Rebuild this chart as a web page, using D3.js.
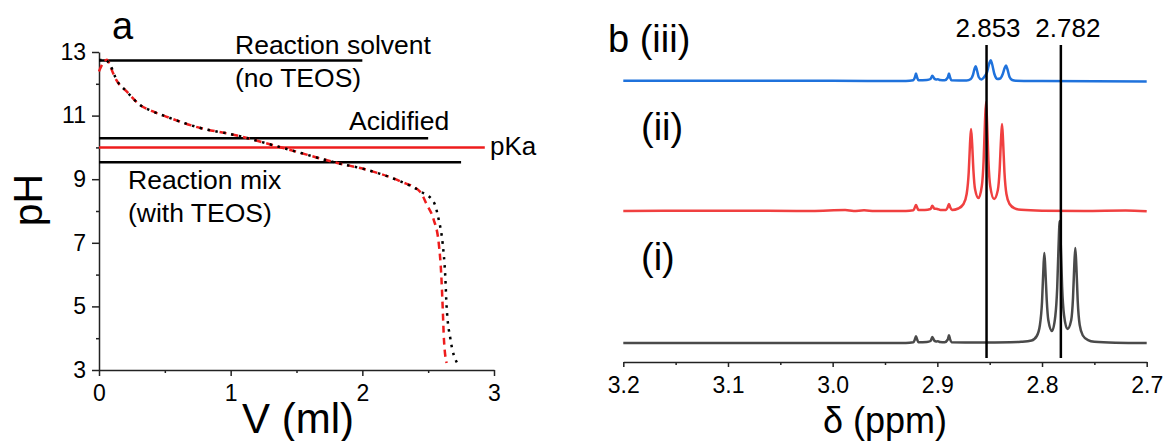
<!DOCTYPE html>
<html>
<head>
<meta charset="utf-8">
<script src="https://cdn.jsdelivr.net/npm/d3@7"></script>
<style>
  body { margin: 0; background: #fff; }
  svg { font-family: "Liberation Sans", Arial, sans-serif; }
</style>
</head>
<body>
<script>

// ---- panel a : titration data (V in ml, pH) ----
var blackV  = [0.00, 0.05, 0.09, 0.13, 0.21, 0.31, 0.41, 0.51, 0.77, 1.02, 1.40, 1.81, 2.03, 2.29, 2.44, 2.54, 2.58, 2.61, 2.63, 2.64, 2.67, 2.72];
var blackPH = [12.75, 12.74, 12.55, 12.15, 11.76, 11.34, 11.13, 10.97, 10.61, 10.40, 9.98, 9.51, 9.30, 8.93, 8.62, 8.30, 7.73, 6.98, 5.94, 5.00, 3.95, 3.22];

var redV  = [0.00, 0.03, 0.06, 0.09, 0.13, 0.21, 0.31, 0.41, 0.51, 0.77, 1.02, 1.40, 1.81, 2.03, 2.29, 2.44, 2.49, 2.54, 2.58, 2.60, 2.61, 2.62, 2.64];
var redPH = [12.39, 12.65, 12.76, 12.50, 12.13, 11.76, 11.34, 11.13, 10.97, 10.61, 10.40, 9.98, 9.51, 9.30, 8.93, 8.60, 8.20, 7.75, 7.00, 5.95, 5.00, 3.95, 3.22];

// reference levels
var refNames = ["Reaction solvent", "Acidified", "pKa", "Reaction mix"];
var refPH    = [12.73, 10.29, 10.0, 9.53];
var refEndV  = [2.0, 2.5, 2.93, 2.75];

// ---- panel b : 1H NMR spectra, [ppm, intensity] ----
var specI = [
  [3.200, 0], [3.000, 0], [2.930, 0], [2.923, 0.8], [2.9215, 3.5], [2.9204, 6.7], [2.9193, 3.5], [2.918, 0.8],
  [2.910, 1], [2.9065, 2], [2.9048, 6], [2.903, 2.5], [2.901, 1.5], [2.8994, 1.8], [2.8975, 1], [2.893, 0.8],
  [2.890, 3.5], [2.8889, 7.7], [2.8878, 3.5], [2.8865, 0.8], [2.860, 0.5], [2.830, 0.8], [2.820, 1.2],
  [2.810, 2.5], [2.805, 7], [2.802, 18], [2.800, 41], [2.7988, 71], [2.7978, 90], [2.7968, 73], [2.7955, 43],
  [2.794, 23], [2.7905, 12], [2.7873, 27], [2.7855, 55], [2.7842, 97], [2.7831, 122], [2.7821, 99], [2.7808, 56],
  [2.779, 28], [2.7757, 14], [2.7721, 23], [2.7704, 45], [2.7692, 77], [2.7682, 95], [2.7672, 77], [2.7659, 42],
  [2.764, 18], [2.761, 7.5], [2.756, 2.8], [2.750, 1.2], [2.730, 0.3], [2.700, 0]
];
var specII = [
  [3.200, 0], [3.100, 0.3], [3.020, 0], [2.988, 0.9], [2.980, 0], [2.970, 0.7], [2.960, 0], [2.930, 0],
  [2.923, 0.8], [2.9215, 3.5], [2.9204, 6], [2.9193, 3.5], [2.918, 1], [2.912, 1], [2.9065, 2], [2.9048, 5.3],
  [2.903, 2.5], [2.900, 2], [2.897, 1], [2.892, 1], [2.890, 4], [2.8889, 7], [2.8878, 4], [2.886, 1],
  [2.880, 2.5], [2.875, 7], [2.872, 17], [2.870, 39], [2.8688, 67], [2.8678, 82], [2.8668, 68], [2.8655, 40],
  [2.864, 22], [2.8607, 13], [2.8575, 25], [2.8558, 50], [2.8545, 89], [2.8535, 109], [2.8525, 89], [2.8512, 50],
  [2.8495, 25], [2.8458, 12], [2.8422, 21], [2.8405, 41], [2.8392, 71], [2.8382, 87], [2.8372, 70], [2.8359, 39],
  [2.834, 17], [2.831, 7], [2.826, 2.6], [2.820, 1.2], [2.800, 0.3], [2.760, 0], [2.720, 0.4], [2.700, -0.3]
];
var specIII = [
  [3.200, 0.3], [3.000, 0.2], [2.930, 0], [2.923, 0.8], [2.9215, 3.5], [2.9204, 7.4], [2.9193, 3.5], [2.918, 0.8],
  [2.910, 1], [2.9065, 2], [2.9048, 5.3], [2.903, 2.5], [2.901, 1.5], [2.8994, 1.8], [2.8975, 1], [2.893, 0.8],
  [2.890, 3.5], [2.8889, 7.4], [2.8878, 3.5], [2.8865, 0.8], [2.872, 0.5], [2.868, 2], [2.866, 6], [2.8645, 12],
  [2.8634, 14.7], [2.8622, 11], [2.8605, 4], [2.858, 1.5], [2.856, 3], [2.8525, 9], [2.8503, 18], [2.849, 20.7],
  [2.8477, 17], [2.8455, 7], [2.8425, 2], [2.840, 2.5], [2.8375, 7], [2.8357, 13], [2.8344, 15.4], [2.8331, 12],
  [2.831, 4], [2.8285, 1], [2.825, 0.3], [2.800, 0], [2.700, -0.5]
];
var spectra     = [specI, specII, specIII];
var specOffset  = [0, 132, 262];
var specColors  = ["#4a4a4a", "#f04040", "#1f72dc"];
var specLabels  = ["(i)", "(ii)", "(iii)"];
var markerPPM   = [2.853, 2.782];

var svg = d3.select("body").append("svg")
    .attr("width", 1168)
    .attr("height", 441);

// ===================== panel a =====================
var xa = d3.scaleLinear().domain([0, 3]).range([99, 494]);
var ya = d3.scaleLinear().domain([3, 13]).range([370, 52]);

// minor ticks first, then major axes (with the axis line)
svg.append("g")
    .attr("transform", "translate(0,370)")
    .call(d3.axisBottom(xa).tickValues([0.5, 1.5, 2.5]).tickSize(3).tickFormat(""))
    .call(function(g) { g.select(".domain").remove(); });
svg.append("g")
    .attr("transform", "translate(99,0)")
    .call(d3.axisLeft(ya).tickValues([4, 6, 8, 10, 12]).tickSize(3).tickFormat(""))
    .call(function(g) { g.select(".domain").remove(); });

svg.append("g")
    .attr("transform", "translate(0,370)")
    .call(d3.axisBottom(xa).tickValues([0, 1, 2, 3]).tickSize(6).tickPadding(9).tickSizeOuter(0).tickFormat(d3.format("d")));
svg.append("g")
    .attr("transform", "translate(99,0)")
    .call(d3.axisLeft(ya).tickValues([3, 5, 7, 9, 11, 13]).tickSize(7).tickPadding(6).tickSizeOuter(0));

svg.selectAll(".tick text").style("font-size", "23px").style("fill", "#000");
svg.selectAll(".domain, .tick line").style("stroke", "#222").style("stroke-width", 1.5);

// reference lines
refNames.forEach(function(name, i) {
  svg.append("line")
      .attr("x1", xa(0)).attr("x2", xa(refEndV[i]))
      .attr("y1", ya(refPH[i])).attr("y2", ya(refPH[i]))
      .style("stroke", name == "pKa" ? "#ee1c1c" : "#000")
      .style("stroke-width", 2.5);
});

// titration curves (red dashed under, black dotted on top)
var lineA = d3.line()
    .curve(d3.curveMonotoneX)
    .x(function(d) { return xa(d[0]); })
    .y(function(d) { return ya(d[1]); });

svg.append("path")
    .datum(redV.map(function(v, i) { return [v, redPH[i]]; }))
    .attr("d", lineA)
    .style("fill", "none")
    .style("stroke", "#ee1c1c")
    .style("stroke-width", 2.5)
    .style("stroke-dasharray", "7,5");

svg.append("path")
    .datum(blackV.map(function(v, i) { return [v, blackPH[i]]; }))
    .attr("d", lineA)
    .style("fill", "none")
    .style("stroke", "#000")
    .style("stroke-width", 2.5)
    .style("stroke-dasharray", "2.5,5.5");

// labels panel a
function label(x, y, txt, size, anchor) {
  return svg.append("text")
      .attr("x", x).attr("y", y)
      .attr("text-anchor", anchor || "start")
      .style("font-size", size + "px")
      .text(txt);
}
label(112, 39, "a", 38);
label(235, 54, "Reaction solvent", 26.5);
label(235, 87, "(no TEOS)", 26.5);
label(349, 130, "Acidified", 26.5);
label(490, 155, "pKa", 26);
label(128, 189, "Reaction mix", 26.5);
label(128, 222, "(with TEOS)", 26.5);
label(298, 433, "V (ml)", 42, "middle");

svg.append("text")
    .attr("transform", "translate(42,200) rotate(-90)")
    .attr("text-anchor", "middle")
    .style("font-size", "41px")
    .text("pH");

// ===================== panel b =====================
var xb = d3.scaleLinear().domain([3.2, 2.7]).range([623.3, 1146.7]);
var yb = d3.scaleLinear().domain([-19, 300]).range([362, 43]);

svg.append("g")
    .attr("class", "axb")
    .attr("transform", "translate(0,362)")
    .call(d3.axisBottom(xb).tickValues([3.15, 3.05, 2.95, 2.85, 2.75]).tickSize(3).tickFormat(""))
    .call(function(g) { g.select(".domain").remove(); });
svg.append("g")
    .attr("class", "axb")
    .attr("transform", "translate(0,362)")
    .call(d3.axisBottom(xb).tickValues([3.2, 3.1, 3.0, 2.9, 2.8, 2.7]).tickSize(5).tickPadding(10).tickSizeOuter(0).tickFormat(d3.format(".1f")));

svg.selectAll(".axb .tick text").style("font-size", "23px").style("fill", "#000");
svg.selectAll(".axb .domain, .axb .tick line").style("stroke", "#222").style("stroke-width", 1.5);

var lineB = d3.line()
    .curve(d3.curveMonotoneX)
    .x(function(d) { return xb(d[0]); })
    .y(function(d) { return yb(d[1]); });

spectra.forEach(function(s, i) {
  svg.append("path")
      .datum(s.map(function(d) { return [d[0], d[1] + specOffset[i]]; }))
      .attr("d", lineB)
      .style("fill", "none")
      .style("stroke", specColors[i])
      .style("stroke-width", 2.5)
      .style("stroke-linejoin", "round");
});

// marker lines
markerPPM.forEach(function(p, i) {
  svg.append("line")
      .attr("x1", xb(p)).attr("x2", xb(p))
      .attr("y1", yb(298)).attr("y2", yb(-15))
      .style("stroke", "#000")
      .style("stroke-width", 2.5);
  label(xb(p) + (i == 0 ? 1.5 : 7), 37, d3.format(".3f")(p), 26, "middle");
});

label(608, 52, "b " + specLabels[2], 38);
label(641, 140, specLabels[1], 38);
label(641, 270, specLabels[0], 38);
label(885, 433, "\u03b4 (ppm)", 36, "middle");

</script>
</body>
</html>
